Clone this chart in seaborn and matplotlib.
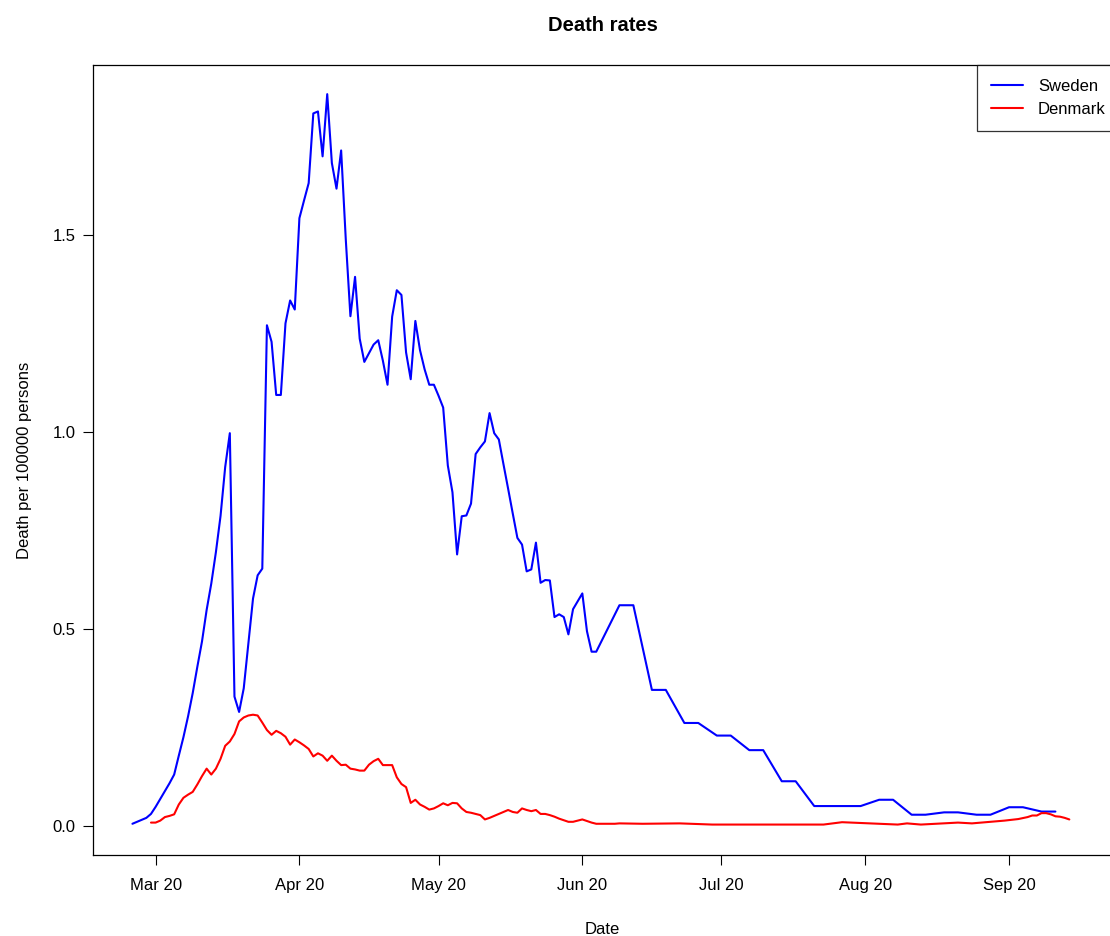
import pandas as pd
import numpy as np
import matplotlib
matplotlib.use("Agg")
import matplotlib.pyplot as plt
import matplotlib.dates as mdates
import seaborn as sns

# days counted from 1 March 2020
START = pd.Timestamp("2020-03-01")

sweden_days = [-5, -4, -3, -2, -1, 0, 1, 2, 3, 4, 5, 6, 7, 8, 9, 10, 11, 12, 13, 14,
               15, 16, 17, 18, 19, 20, 21, 22, 23, 24, 25, 26, 27, 28, 29, 30, 31, 32,
               33, 34, 35, 36, 37, 38, 39, 40, 41, 42, 43, 44, 45, 46, 47, 48, 49, 50,
               51, 52, 53, 54, 55, 56, 57, 58, 59, 60, 61, 62, 63, 64, 65, 66, 67, 68,
               69, 70, 71, 72, 73, 74, 75, 76, 77, 78, 79, 80, 81, 82, 83, 84, 85, 86,
               87, 88, 89, 90, 91, 92, 93, 94, 95, 100, 103, 107, 110, 114, 117, 121,
               124, 128, 131, 135, 138, 142, 152, 156, 159, 163, 166, 170, 173, 177,
               180, 184, 187, 191, 194]
sweden_vals = [0.005, 0.010, 0.015, 0.020, 0.030, 0.048, 0.068, 0.088, 0.108, 0.130,
               0.178, 0.225, 0.278, 0.337, 0.404, 0.468, 0.548, 0.615, 0.695, 0.787,
               0.911, 0.997, 0.328, 0.289, 0.349, 0.463, 0.577, 0.636, 0.653, 1.271,
               1.229, 1.094, 1.094, 1.276, 1.334, 1.311, 1.543, 1.588, 1.632, 1.809,
               1.814, 1.700, 1.858, 1.683, 1.618, 1.715, 1.489, 1.294, 1.394, 1.237,
               1.178, 1.200, 1.222, 1.233, 1.181, 1.120, 1.293, 1.360, 1.348, 1.202,
               1.134, 1.282, 1.208, 1.159, 1.120, 1.120, 1.092, 1.062, 0.915, 0.847,
               0.689, 0.786, 0.788, 0.818, 0.944, 0.961, 0.976, 1.048, 0.997, 0.981,
               0.918, 0.856, 0.793, 0.731, 0.714, 0.646, 0.651, 0.719, 0.617, 0.624,
               0.623, 0.530, 0.537, 0.530, 0.486, 0.550, 0.570, 0.590, 0.494, 0.442,
               0.442, 0.560, 0.560, 0.345, 0.345, 0.261, 0.261, 0.229, 0.229, 0.192,
               0.192, 0.113, 0.113, 0.050, 0.050, 0.066, 0.066, 0.028, 0.028, 0.034,
               0.034, 0.028, 0.028, 0.047, 0.047, 0.036, 0.036]

denmark_days = list(range(-1, 96)) + [99, 100, 105, 113, 120, 144, 148, 152, 160, 162,
                                      165, 173, 176, 180, 183, 186, 188, 189, 190, 191,
                                      192, 193, 194, 195, 196, 197]
denmark_vals = [0.008, 0.008, 0.013, 0.022, 0.025, 0.029, 0.054, 0.071, 0.079, 0.086,
                0.105, 0.126, 0.145, 0.130, 0.145, 0.170, 0.203, 0.214, 0.233, 0.265,
                0.275, 0.280, 0.282, 0.280, 0.262, 0.243, 0.231, 0.241, 0.235, 0.226,
                0.206, 0.219, 0.212, 0.204, 0.195, 0.176, 0.184, 0.178, 0.165, 0.178,
                0.165, 0.154, 0.155, 0.145, 0.143, 0.140, 0.140, 0.155, 0.164, 0.170,
                0.154, 0.154, 0.154, 0.123, 0.106, 0.098, 0.058, 0.066, 0.054, 0.048,
                0.041, 0.044, 0.050, 0.057, 0.052, 0.058, 0.057, 0.044, 0.035, 0.033,
                0.030, 0.027, 0.016, 0.020, 0.025, 0.030, 0.035, 0.040, 0.035, 0.033,
                0.044, 0.040, 0.037, 0.040, 0.030, 0.030, 0.027, 0.023, 0.018, 0.014,
                0.010, 0.010, 0.013, 0.016, 0.012, 0.008, 0.005,
                0.005, 0.006, 0.005, 0.006, 0.003, 0.003, 0.009, 0.007, 0.003, 0.006,
                0.003, 0.008, 0.006, 0.010, 0.013, 0.017, 0.022, 0.026, 0.026, 0.032,
                0.032, 0.029, 0.024, 0.023, 0.020, 0.016]

countries = ["Sweden", "Denmark"]
colors = {"Sweden": "blue", "Denmark": "red"}

df = pd.concat([
    pd.DataFrame({"Date": START + pd.to_timedelta(sweden_days, unit="D"),
                  "rate": sweden_vals, "country": "Sweden"}),
    pd.DataFrame({"Date": START + pd.to_timedelta(denmark_days, unit="D"),
                  "rate": denmark_vals, "country": "Denmark"}),
], ignore_index=True)

sns.set_style("ticks")
plt.rcParams["font.family"] = ["Liberation Sans", "DejaVu Sans"]
plt.rcParams["text.color"] = "black"
plt.rcParams["axes.labelcolor"] = "black"

fig = plt.figure(figsize=(11.1, 9.36), dpi=100)
ax = fig.add_axes([93 / 1110, 1 - 855 / 936, (1112 - 93) / 1110, (855 - 65) / 936])

sns.lineplot(data=df, x="Date", y="rate", hue="country", hue_order=countries,
             palette=colors, estimator=None, sort=False, linewidth=1.5, ax=ax)

# x range like R's 4% padding
ax.set_xlim(START + pd.Timedelta(days=-13.5), START + pd.Timedelta(days=206.2))
ax.set_ylim(-0.0743, 1.932)
ax.xaxis.set_major_locator(mdates.MonthLocator())
ax.xaxis.set_major_formatter(mdates.DateFormatter("%b %y"))
ax.set_yticks([0, 0.5, 1.0, 1.5])
ax.set_yticklabels(["0.0", "0.5", "1.0", "1.5"])

for s in ax.spines.values():
    s.set_visible(True)
    s.set_color("black")
    s.set_linewidth(0.9)

ax.tick_params(axis="x", length=7.2, width=0.8, pad=9.5, labelsize=12, colors="black")
ax.tick_params(axis="y", length=7.2, width=0.8, pad=5.5, labelsize=12, colors="black")

ax.set_title("Death rates", fontsize=14.5, fontweight="bold", pad=24.5, color="black")
ax.set_xlabel("Date", fontsize=12, labelpad=20.5)
ax.set_ylabel("Death per 100000 persons", fontsize=12, labelpad=14.5)

leg = ax.legend(loc="upper left", bbox_to_anchor=((977 - 93) / (1112 - 93), 1.0),
                frameon=True, fancybox=False, fontsize=12, handlelength=1.9,
                handletextpad=0.9, borderpad=0.85, labelspacing=0.44,
                borderaxespad=0)
leg.get_frame().set_edgecolor("black")
leg.get_frame().set_linewidth(0.9)
for line in leg.get_lines():
    line.set_linewidth(1.5)
for t in leg.get_texts():
    t.set_color("black")

fig.savefig("out.png", dpi=100)
